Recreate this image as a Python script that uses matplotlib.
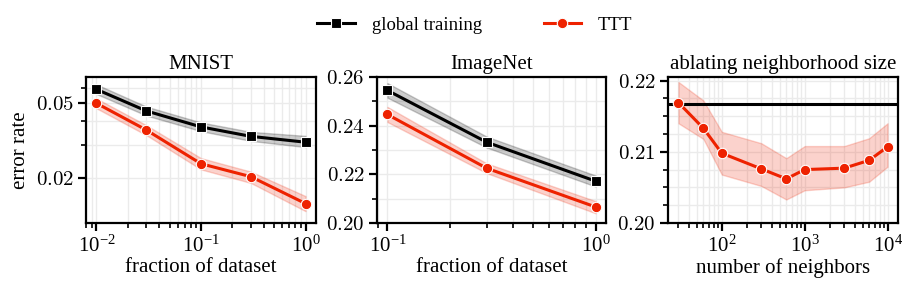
import numpy as np
import matplotlib
matplotlib.use('Agg')
import matplotlib.pyplot as plt
from matplotlib.ticker import FixedLocator, NullFormatter, MultipleLocator, FuncFormatter, FixedFormatter

plt.rcParams['font.family'] = 'serif'
plt.rcParams['font.serif'] = ['Liberation Serif']
plt.rcParams['mathtext.fontset'] = 'cm'
plt.rcParams['axes.formatter.use_mathtext'] = True

# 数据
mnist_frac = [0.01, 0.03, 0.1, 0.3, 1.0]
mnist_global = [0.0593, 0.0455, 0.0374, 0.0333, 0.0310]
mnist_global_lo = [0.0560, 0.0430, 0.0355, 0.0315, 0.0292]
mnist_global_hi = [0.0630, 0.0480, 0.0395, 0.0352, 0.0335]
mnist_ttt = [0.0500, 0.0360, 0.0238, 0.0203, 0.0146]
mnist_ttt_lo = [0.0470, 0.0338, 0.0222, 0.0188, 0.0133]
mnist_ttt_hi = [0.0530, 0.0382, 0.0255, 0.0216, 0.0160]

imnet_frac = [0.1, 0.3, 1.0]
imnet_global = [0.2545, 0.2332, 0.2172]
imnet_global_lo = [0.2515, 0.2310, 0.2150]
imnet_global_hi = [0.2575, 0.2355, 0.2195]
imnet_ttt = [0.2446, 0.2225, 0.2066]
imnet_ttt_lo = [0.2415, 0.2205, 0.2040]
imnet_ttt_hi = [0.2477, 0.2245, 0.2090]

neighbors = [30, 60, 100, 300, 600, 1000, 3000, 6000, 10000]
nb_ttt = [0.2169, 0.2133, 0.2098, 0.2076, 0.2062, 0.2075, 0.2077, 0.2088, 0.2107]
nb_ttt_lo = [0.2140, 0.2118, 0.2068, 0.2052, 0.2033, 0.2046, 0.2050, 0.2058, 0.2079]
nb_ttt_hi = [0.2198, 0.2172, 0.2128, 0.2112, 0.2091, 0.2108, 0.2108, 0.2119, 0.2140]
nb_global = 0.2167

red = '#ee2200'
grid_c = '#ebebeb'
fs = 15

fig = plt.figure(figsize=(9.13, 2.91), dpi=100)
axs = [fig.add_axes([86 / 913, 1 - 223 / 291, 230 / 913, 146 / 291]),
       fig.add_axes([377 / 913, 1 - 223 / 291, 229 / 913, 146 / 291]),
       fig.add_axes([668 / 913, 1 - 223 / 291, 230 / 913, 146 / 291])]

fmt2 = FuncFormatter(lambda v, p: '$%.2f$' % v)


def draw_global(ax, x, y, lo, hi):
    ax.fill_between(x, lo, hi, color='black', alpha=0.2, lw=1, zorder=2)
    return ax.plot(x, y, color='black', lw=2.2, marker='s', ms=7,
                   mec='white', mew=0.8, zorder=4, label='global training')[0]


def draw_ttt(ax, x, y, lo, hi):
    ax.fill_between(x, lo, hi, color=red, alpha=0.2, lw=1, zorder=2)
    return ax.plot(x, y, color=red, lw=2.2, marker='o', ms=7.5,
                   mec='white', mew=0.8, zorder=5, label='TTT')[0]


# MNIST
ax = axs[0]
h1 = draw_global(ax, mnist_frac, mnist_global, mnist_global_lo, mnist_global_hi)
h2 = draw_ttt(ax, mnist_frac, mnist_ttt, mnist_ttt_lo, mnist_ttt_hi)
ax.set_xscale('log')
ax.set_yscale('log')
ax.set_ylim(0.0115, 0.069)
ax.yaxis.set_major_locator(FixedLocator([0.02, 0.05]))
ax.yaxis.set_minor_locator(FixedLocator([0.03, 0.04, 0.06]))
ax.yaxis.set_major_formatter(FixedFormatter(['$0.02$', '$0.05$']))
ax.yaxis.set_minor_formatter(NullFormatter())
ax.set_title('MNIST', fontsize=fs)
ax.set_xlabel('fraction of dataset', fontsize=fs, labelpad=1)
ax.set_ylabel('error rate', fontsize=fs)

# ImageNet
ax = axs[1]
draw_global(ax, imnet_frac, imnet_global, imnet_global_lo, imnet_global_hi)
draw_ttt(ax, imnet_frac, imnet_ttt, imnet_ttt_lo, imnet_ttt_hi)
ax.set_xscale('log')
ax.set_ylim(0.20, 0.26)
ax.yaxis.set_major_locator(MultipleLocator(0.02))
ax.yaxis.set_minor_locator(MultipleLocator(0.01))
ax.yaxis.set_major_formatter(fmt2)
ax.set_title('ImageNet', fontsize=fs)
ax.set_xlabel('fraction of dataset', fontsize=fs, labelpad=1)

# 邻域大小
ax = axs[2]
ax.axhline(nb_global, color='black', lw=2.2, zorder=3)
draw_ttt(ax, neighbors, nb_ttt, nb_ttt_lo, nb_ttt_hi)
ax.set_xscale('log')
ax.set_ylim(0.20, 0.2205)
ax.yaxis.set_major_locator(MultipleLocator(0.01))
ax.yaxis.set_minor_locator(MultipleLocator(0.0025))
ax.yaxis.set_major_formatter(fmt2)
ax.set_title('ablating neighborhood size', fontsize=fs)
ax.set_xlabel('number of neighbors', fontsize=fs, labelpad=1)

for ax in axs:
    ax.grid(True, which='both', color=grid_c, lw=1, zorder=0)
    ax.set_axisbelow(True)
    for s in ax.spines.values():
        s.set_linewidth(1.6)
    ax.tick_params(which='major', labelsize=15, width=1.6, length=6, direction='out', pad=3)
    ax.tick_params(which='minor', width=1.2, length=3.5, direction='out')

fig.legend([h1, h2], ['global training', 'TTT'], loc='upper center',
           bbox_to_anchor=(0.52, 1.0), ncol=2, frameon=False, fontsize=13.5,
           columnspacing=3.3, handlelength=2.0, handletextpad=0.9)

fig.savefig('out.png', dpi=100)
